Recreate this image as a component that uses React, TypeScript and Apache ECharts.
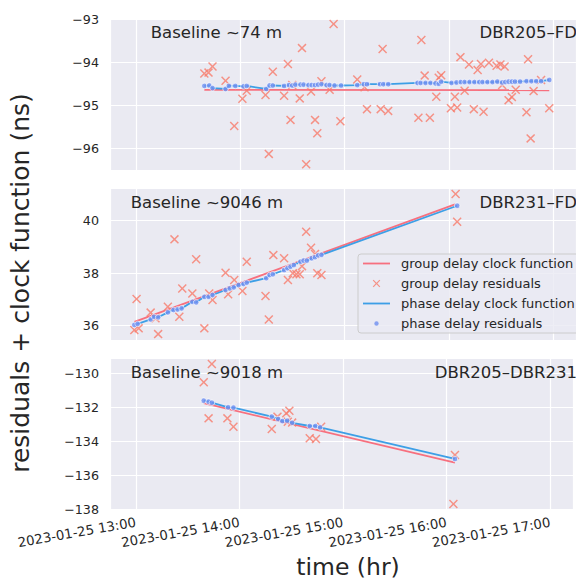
import React, { useEffect, useRef } from "react";
import * as echarts from "echarts";

// times are minutes after 2023-01-25 13:00
const topGroupClock: [number, number][] = [[39.3, -94.64], [237.8, -94.65]];
const topGroupResiduals: [number, number][] = [
  [39.3, -94.26], [41.7, -94.24], [44.0, -94.10], [51.5, -94.43], [56.5, -95.48], [61.2, -94.85], [63.7, -94.66],
  [76.4, -96.13], [74.5, -94.76], [78.7, -94.22], [85.2, -94.78], [87.4, -94.04], [88.9, -95.34], [89.9, -94.53],
  [94.2, -94.84], [95.5, -93.67], [97.9, -96.37], [100.7, -94.68], [103.0, -95.34], [104.3, -95.65], [106.7, -94.44],
  [111.4, -94.64], [113.7, -93.11], [117.6, -95.37], [127.3, -94.40], [131.5, -94.58], [132.9, -95.09], [140.8, -95.09],
  [141.9, -93.69], [145.1, -95.13], [162.5, -95.29], [164.2, -93.48], [166.1, -94.31], [169.1, -95.29], [172.8, -94.80],
  [174.2, -94.36], [175.6, -94.30], [181.2, -95.07], [183.5, -94.80], [184.8, -95.05], [186.7, -93.88], [189.1, -94.66],
  [191.6, -94.05], [194.4, -95.09], [196.6, -94.18], [198.5, -94.04], [200.0, -95.15], [203.1, -94.01], [207.5, -94.08],
  [209.7, -94.05], [212.1, -94.10], [210.7, -94.53], [214.4, -94.88], [216.3, -94.81], [218.5, -94.64], [224.7, -95.16],
  [225.6, -93.93], [227.1, -95.77], [228.8, -94.67], [233.1, -94.41], [237.8, -95.07],
];
const topPhaseResiduals: [number, number][] = [
  [39.3, -94.55], [42.1, -94.54], [44.0, -94.60], [51.5, -94.62], [53.4, -94.55], [57.1, -94.55], [61.8, -94.56],
  [63.7, -94.55], [74.9, -94.62], [76.8, -94.54], [78.7, -94.54], [85.2, -94.55], [88.0, -94.53], [89.9, -94.54],
  [91.7, -94.52], [94.6, -94.52], [96.4, -94.52], [99.2, -94.53], [101.1, -94.53], [103.0, -94.53], [104.8, -94.52],
  [106.7, -94.51], [109.6, -94.53], [111.4, -94.53], [114.2, -94.54], [118.0, -94.54], [127.3, -94.53], [131.1, -94.51],
  [132.9, -94.51], [140.4, -94.51], [142.3, -94.51], [145.1, -94.51], [162.0, -94.48], [163.8, -94.48], [166.6, -94.48],
  [169.4, -94.48], [172.3, -94.49], [174.2, -94.50], [175.6, -94.45], [181.6, -94.48], [184.4, -94.47], [186.9, -94.46],
  [189.1, -94.46], [191.9, -94.46], [194.7, -94.46], [197.5, -94.46], [199.4, -94.46], [202.2, -94.46], [205.1, -94.46],
  [207.9, -94.45], [210.7, -94.47], [212.5, -94.46], [214.4, -94.45], [216.3, -94.45], [218.1, -94.45], [221.0, -94.45],
  [224.7, -94.44], [227.5, -94.44], [230.3, -94.44], [233.1, -94.44], [237.8, -94.41],
];

const midGroupClock: [number, number][] = [[-1.0, 36.15], [183.5, 40.62]];
const midGroupResiduals: [number, number][] = [
  [-1.0, 35.84], [0.3, 37.02], [1.5, 35.9], [8.4, 36.5], [11.2, 36.28], [12.7, 35.68], [18.3, 36.72], [22.1, 39.29],
  [24.9, 36.34], [26.6, 37.42], [32.4, 37.23], [34.6, 38.53], [39.3, 35.9], [42.1, 37.23], [44.0, 36.98], [51.5, 38.02],
  [53.0, 37.2], [56.5, 37.74], [61.2, 37.32], [63.7, 38.44], [74.5, 37.13], [76.4, 36.24], [79.0, 38.69], [85.2, 38.57],
  [87.4, 37.74], [90.2, 38.0], [92.3, 37.96], [94.2, 37.96], [95.5, 38.27], [97.9, 39.58], [100.7, 38.97], [103.0, 38.73],
  [104.3, 38.0], [106.7, 37.93], [183.9, 41.02], [184.8, 39.96],
];
const midPhaseResiduals: [number, number][] = [
  [-1.0, 36.03], [0.9, 36.07], [8.4, 36.24], [10.3, 36.34], [12.7, 36.32], [18.3, 36.51], [21.5, 36.6], [23.9, 36.62],
  [26.2, 36.66], [32.4, 36.91], [34.6, 36.89], [39.3, 37.1], [41.7, 37.1], [44.0, 37.17], [51.5, 37.36], [53.9, 37.42],
  [56.2, 37.46], [59.0, 37.55], [61.8, 37.59], [63.7, 37.64], [74.9, 37.81], [76.8, 37.93], [78.7, 37.96], [85.2, 38.12],
  [87.1, 38.19], [88.9, 38.25], [90.8, 38.31], [94.6, 38.44], [96.4, 38.48], [98.3, 38.48], [101.1, 38.57], [103.0, 38.61],
  [104.8, 38.68], [106.7, 38.7], [184.8, 40.57],
];

const botGroupClock: [number, number][] = [[39.3, -131.76], [184.8, -135.26]];
const botGroupResiduals: [number, number][] = [
  [39.3, -130.53], [44.0, -129.45], [42.1, -132.65], [53.0, -132.65], [56.5, -133.14], [78.7, -133.28], [82.0, -132.55],
  [87.1, -132.35], [88.9, -132.2], [88.0, -132.85], [90.5, -132.9], [100.7, -133.82], [104.3, -133.86], [107.3, -133.14],
  [184.8, -134.81], [183.9, -137.69],
];
const botPhaseResiduals: [number, number][] = [
  [39.3, -131.61], [42.1, -131.67], [44.0, -131.73], [53.4, -132.0], [56.5, -132.02], [78.7, -132.55], [82.4, -132.69],
  [84.8, -132.81], [87.6, -132.79], [90.5, -132.91], [100.7, -133.1], [103.9, -133.1], [106.7, -133.18], [184.8, -135.04],
];

const baselineLabels = ["Baseline ~74 m", "Baseline ~9046 m", "Baseline ~9018 m"];
const pairLabels = ["DBR205–FD", "DBR231–FD", "DBR205–DBR231"];
const seriesNames = [
  "group delay clock function",
  "group delay residuals",
  "phase delay clock function",
  "phase delay residuals",
];

const FONT = "'DejaVu Sans', sans-serif";
const TEXT = "#262626";
const RED_LINE = "#f7707f";
const RED_X = "#f87b6a";
const BLUE_LINE = "#3d9fe6";
const BLUE_DOT = "#6e8ff0";
const X_SHAPE = "M0,1.15L1.15,0L5,3.85L8.85,0L10,1.15L6.15,5L10,8.85L8.85,10L5,6.15L1.15,10L0,8.85L3.85,5Z";
const X_PATH = "path://" + X_SHAPE;
const X_ICON = "path://M-3,-3M13,13" + X_SHAPE;
const DOT_ICON = "path://M-6,-6M16,16M5,1A4,4,0,1,1,5,9A4,4,0,1,1,5,1Z";
const LINE_ICON = "path://M0,0M27,12M0,5.1L27,5.1L27,6.9L0,6.9Z";

const toHour = (pts: [number, number][]) => pts.map(([m, v]) => [13 + m / 60, v]);
const minus = (s: string) => s.replace("-", "−");

const panels = [
  { clock: topGroupClock, group: topGroupResiduals, phase: topPhaseResiduals, min: -96.505, max: -92.97, split: 4, top: 18 },
  { clock: midGroupClock, group: midGroupResiduals, phase: midPhaseResiduals, min: 35.456, max: 41.246, split: 3, top: 188 },
  { clock: botGroupClock, group: botGroupResiduals, phase: botPhaseResiduals, min: -138.04, max: -129.1, split: 4, top: 358 },
];

export default function App() {
  const ref = useRef<HTMLDivElement>(null);
  useEffect(() => {
    if (!ref.current) return;
    const chart = echarts.init(ref.current, null, { renderer: "svg" });
    const isInt = (v: number) => Math.abs(v - Math.round(v)) < 1e-6;
    const grid = panels.map((p) => ({
      left: 110, top: p.top, width: 477, height: 152,
      show: true, backgroundColor: "#eaeaf2", borderWidth: 0,
    }));
    const xAxis = panels.map((_, i) => ({
      type: "value", gridIndex: i, min: 12.75, max: 17.22, splitNumber: 4,
      axisLine: { show: false }, axisTick: { show: false },
      splitLine: { show: true, lineStyle: { color: "#ffffff", width: 1.2 } },
      axisLabel: {
        show: i === 2, rotate: 10, margin: 12, fontSize: 13.3, color: TEXT, fontFamily: FONT,
        formatter: (v: number) => (isInt(v) ? `2023-01-25 ${Math.round(v)}:00` : ""),
      },
    }));
    const yAxis = panels.map((p, i) => ({
      type: "value", gridIndex: i, min: p.min, max: p.max, splitNumber: p.split,
      axisLine: { show: false }, axisTick: { show: false },
      splitLine: { show: true, lineStyle: { color: "#ffffff", width: 1.2 } },
      axisLabel: {
        margin: 11, fontSize: 12.7, color: TEXT, fontFamily: FONT,
        formatter: (v: number) => (isInt(v) ? minus(String(Math.round(v))) : ""),
      },
    }));
    const series: any[] = [];
    panels.forEach((p, i) => {
      series.push(
        { name: seriesNames[0], type: "line", xAxisIndex: i, yAxisIndex: i, data: toHour(p.clock), symbol: "none",
          lineStyle: { color: RED_LINE, width: 1.8 }, itemStyle: { color: RED_LINE }, z: 2 },
        { name: seriesNames[1], type: "scatter", xAxisIndex: i, yAxisIndex: i, data: toHour(p.group), symbol: X_PATH,
          symbolSize: 9, itemStyle: { color: RED_X }, z: 3 },
        { name: seriesNames[2], type: "line", xAxisIndex: i, yAxisIndex: i, data: toHour(p.phase), symbol: "none",
          lineStyle: { color: BLUE_LINE, width: 1.8 }, itemStyle: { color: BLUE_LINE }, z: 4 },
        { name: seriesNames[3], type: "scatter", xAxisIndex: i, yAxisIndex: i, data: toHour(p.phase), symbol: "circle",
          symbolSize: 5.5, itemStyle: { color: BLUE_DOT, borderColor: "#ffffff", borderWidth: 0.8 }, z: 5 }
      );
    });
    const txt = (text: string, x: number, y: number, align: string, size: number, rot = 0) => ({
      type: "text", x, y, rotation: rot, z: 20,
      style: { text, font: `${size}px ${FONT}`, fill: TEXT, textAlign: align, textVerticalAlign: "middle" },
    });
    const centers = [32, 202, 372];
    const baseX = [150.7, 130.7, 130.7];
    const graphic: any[] = [];
    panels.forEach((_, i) => {
      graphic.push(txt(baselineLabels[i], baseX[i], centers[i], "left", 16.5));
      graphic.push(txt(pairLabels[i], 577, centers[i], "right", 16.5));
    });
    graphic.push(txt("time (hr)", 348, 567, "center", 23.5));
    graphic.push(txt("residuals + clock function (ns)", 20, 283, "center", 25, Math.PI / 2));
    chart.setOption({
      animation: false,
      grid, xAxis, yAxis, series, graphic,
      legend: {
        show: true, orient: "vertical", left: 358, top: 254, selectedMode: false,
        itemWidth: 27, itemHeight: 12, itemGap: 7,
        padding: [3, 10, 3, 5],
        backgroundColor: "rgba(234,234,242,0.8)", borderColor: "#cccccc", borderWidth: 1, borderRadius: 3,
        textStyle: { fontSize: 13, color: TEXT, fontFamily: FONT, padding: [0, 0, 0, 6] },
        data: [
          { name: seriesNames[0], icon: LINE_ICON, itemStyle: { color: RED_LINE, borderWidth: 0 } },
          { name: seriesNames[1], icon: X_ICON, itemStyle: { color: RED_X, borderWidth: 0 } },
          { name: seriesNames[2], icon: LINE_ICON, itemStyle: { color: BLUE_LINE, borderWidth: 0 } },
          { name: seriesNames[3], icon: DOT_ICON, itemStyle: { color: BLUE_DOT, borderWidth: 0 } },
        ],
      },
    });
    return () => chart.dispose();
  }, []);
  return <div ref={ref} style={{ position: "absolute", left: 0, top: 0, width: 576, height: 581 }} />;
}
